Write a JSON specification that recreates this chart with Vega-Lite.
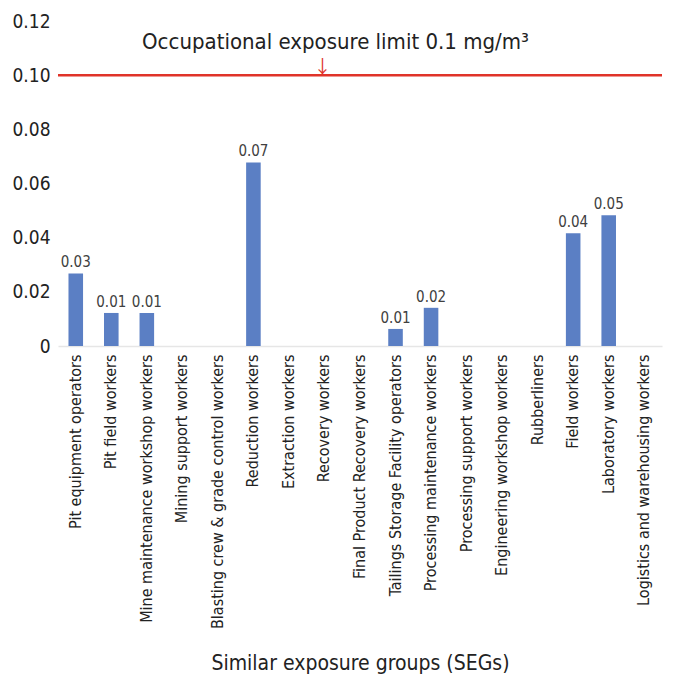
{
  "$schema": "https://vega.github.io/schema/vega-lite/v6.json",
  "autosize": "none",
  "width": 604,
  "height": 325,
  "padding": {"left": 58, "top": 21, "right": 21, "bottom": 331},
  "background": "white",
  "config": {
    "view": {"stroke": null},
    "font": "DejaVu Sans Condensed"
  },
  "data": {
    "values": [
      {"seg": "Pit equipment operators", "value": 0.0268, "label": "0.03"},
      {"seg": "Pit field workers", "value": 0.0122, "label": "0.01"},
      {"seg": "Mine maintenance workshop workers", "value": 0.0122, "label": "0.01"},
      {"seg": "Mining support workers", "value": 0, "label": ""},
      {"seg": "Blasting crew & grade control workers", "value": 0, "label": ""},
      {"seg": "Reduction workers", "value": 0.0678, "label": "0.07"},
      {"seg": "Extraction workers", "value": 0, "label": ""},
      {"seg": "Recovery workers", "value": 0, "label": ""},
      {"seg": "Final Product Recovery workers", "value": 0, "label": ""},
      {"seg": "Tailings Storage Facility  operators", "value": 0.0063, "label": "0.01"},
      {"seg": "Processing maintenance workers", "value": 0.0141, "label": "0.02"},
      {"seg": "Processing support workers", "value": 0, "label": ""},
      {"seg": "Engineering workshop workers", "value": 0, "label": ""},
      {"seg": "Rubberliners", "value": 0, "label": ""},
      {"seg": "Field workers", "value": 0.0416, "label": "0.04"},
      {"seg": "Laboratory workers", "value": 0.0483, "label": "0.05"},
      {"seg": "Logistics and warehousing workers", "value": 0, "label": ""}
    ]
  },
  "encoding": {
    "x": {
      "field": "seg",
      "type": "nominal",
      "sort": null,
      "scale": {"paddingInner": 0.59, "paddingOuter": 0.295},
      "axis": {
        "title": "Similar exposure groups (SEGs)",
        "titleFontSize": 21,
        "titleFontWeight": "normal",
        "titleColor": "#222222",
        "titleBaseline": "middle",
        "titleY": 317,
        "labelAngle": -90,
        "labelFontSize": 16,
        "labelColor": "#222222",
        "labelPadding": 8,
        "labelLimit": 400,
        "ticks": false,
        "domainColor": "#e6e6e6",
        "domainWidth": 1.5
      }
    },
    "y": {
      "field": "value",
      "type": "quantitative",
      "scale": {"domain": [0, 0.12], "nice": false},
      "axis": {
        "title": null,
        "values": [0, 0.02, 0.04, 0.06, 0.08, 0.1, 0.12],
        "labelExpr": "datum.value == 0 ? '0' : format(datum.value, '.2f')",
        "labelFontSize": 19,
        "labelColor": "#222222",
        "labelPadding": 8,
        "ticks": false,
        "domain": false,
        "grid": false
      }
    }
  },
  "layer": [
    {
      "mark": {"type": "bar", "color": "#5b7fc4"}
    },
    {
      "mark": {"type": "text", "baseline": "bottom", "dy": -3, "fontSize": 15, "color": "#404040"},
      "encoding": {"text": {"field": "label"}}
    },
    {
      "data": {"values": [{"limit": 0.1}]},
      "mark": {"type": "rule", "color": "#e03329", "strokeWidth": 2.5},
      "encoding": {
        "y": {"field": "limit", "type": "quantitative"},
        "x": {"value": 0},
        "x2": {"value": 604}
      }
    },
    {
      "data": {"values": [{"seg": "Recovery workers", "y": 0.1123, "t": "Occupational exposure limit 0.1 mg/m³"}]},
      "mark": {"type": "text", "baseline": "middle", "align": "center", "dx": 11, "fontSize": 22, "color": "#222222"},
      "encoding": {
        "x": {"field": "seg", "type": "nominal"},
        "y": {"field": "y", "type": "quantitative"},
        "text": {"field": "t"}
      }
    },
    {
      "data": {"values": [{"seg": "Recovery workers", "y": 0.1, "t": "↓"}]},
      "mark": {"type": "text", "baseline": "bottom", "align": "center", "dx": -2, "dy": 2, "fontSize": 18, "font": "Noto Sans CJK SC", "color": "#e03329"},
      "encoding": {
        "x": {"field": "seg", "type": "nominal"},
        "y": {"field": "y", "type": "quantitative"},
        "text": {"field": "t"}
      }
    }
  ]
}
